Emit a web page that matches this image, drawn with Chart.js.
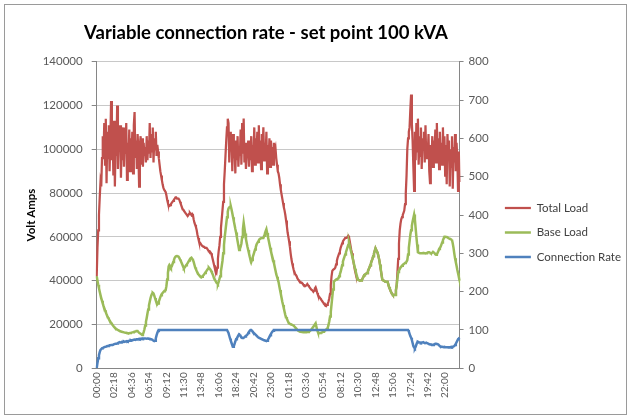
<!DOCTYPE html>
<html>
<head>
<meta charset="utf-8">
<script src="https://cdn.jsdelivr.net/npm/chart.js@4.4.1/dist/chart.umd.min.js"></script>
<style>
html,body{margin:0;padding:0;background:#fff;}
#wrap{position:relative;width:631px;height:417px;overflow:hidden;}
#c{position:absolute;left:0;top:0;}
#frame{position:absolute;left:4px;top:4px;width:623px;height:411px;box-sizing:border-box;border:1px solid #9a9a9a;pointer-events:none;}
</style>
</head>
<body>
<div id="wrap"><canvas id="c" width="631" height="417"></canvas><div id="frame"></div></div>
<script>
// X-axis labels shown every 23 samples (6-minute samples, labels every 2h18m)
const tickLabels = ['00:00','02:18','04:36','06:54','09:12','11:30','13:48','16:06','18:24','20:42','23:00',
                    '01:18','03:36','05:54','08:12','10:30','12:48','15:06','17:24','19:42','22:00'];
const pointsPerTick = 23;

// Total Load (VA)
const totalLoad = [
42000,55000,63000,70000,78000,85000,83000,96000,106000,97000,
112000,93000,114000,84500,108000,96000,111000,90000,104000,122000,
95000,109000,88000,113000,83000,105000,97000,120000,91000,107000,
99000,111000,87000,104000,95000,110000,92000,106000,98000,112000,
86000,103000,94000,109000,90000,105000,97000,108000,89000,111000,
117000,96000,104000,91000,107000,99000,83000,102000,106000,93000,
105000,92000,103000,97000,101000,94000,106000,95000,104000,98000,
112000,96000,107000,99000,110000,94000,105000,100000,108000,97000,
102000,99000,96000,93000,90000,88000,86000,84000,82500,81500,
81000,80500,79000,77000,75500,74000,74000,74500,75000,75500,
76000,76500,77000,77500,78000,78000,77500,77500,77500,77000,
76000,75000,74000,73000,72500,72000,71500,71000,70500,70000,
69500,70000,70500,71000,70500,70000,70500,70000,68000,66500,
65500,64500,63000,61000,59500,58000,57500,57000,56500,56000,
56000,55500,55500,55000,55000,55000,54500,54000,53500,53500,
53000,52500,51500,50000,48500,47000,45500,44000,43500,46000,
50000,53500,56000,60000,64000,68000,72000,76000,84000,90000,
97000,104000,110000,114000,112000,94000,108000,99000,105000,90000,
107000,96000,101000,89000,104000,95000,106000,92000,100000,97000,
109000,93000,112000,98000,114000,94000,103000,91000,99000,96000,
104000,92000,101000,95000,106000,90000,102000,97000,110000,93000,
105000,98000,108000,94000,111000,96000,104000,91000,107000,99000,
110000,95000,103000,97000,108000,89000,102000,96000,105000,92000,
104000,98000,101000,93000,103000,99000,100500,96000,93000,90000,
89000,87000,84000,81500,79500,77500,75500,73500,72000,70000,
67500,65000,62000,60000,58000,55500,52500,50000,48000,46500,
45000,44000,43000,42500,42000,41000,40500,40000,39500,39500,
39000,39000,38500,38000,38000,37500,37500,38000,38500,38000,
37500,37000,36500,36000,36000,35500,35000,35500,36500,37000,
36000,34500,33500,33000,32500,32000,31500,31000,30500,30000,
29500,29500,29000,28500,29000,29500,30500,32000,34000,38000,
42000,44500,45000,45000,45500,46000,47500,49000,50500,51500,
52500,53500,55000,56000,57000,58000,58500,59000,59500,59500,
59500,60000,60500,60000,58000,56000,54000,52500,50500,48500,
46500,44500,43000,41500,41000,40500,40300,40100,40000,40100,
40300,41000,41700,42500,42800,43000,43300,43500,44300,45200,
46000,47000,48000,49000,50000,51200,52400,53600,54800,54000,
53200,52500,51000,49500,47300,45000,42700,40500,40200,40000,
39800,39500,39500,39500,39500,38200,37000,36200,35300,34500,
34000,33500,33500,33500,33500,35700,38000,44000,50000,57000,
63000,66000,68000,69000,70000,71000,72000,75000,80000,88000,
100000,105000,108000,110000,118000,125000,112000,104000,92000,81000,
108000,95000,112000,99000,114000,93000,106000,97000,110000,91000,
105000,100000,108000,94000,111000,96000,103000,98000,107000,90000,
84500,102000,95000,106000,92000,104000,98000,109000,94000,112000,
96000,105000,91000,108000,99000,103000,93000,110000,95000,106000,
88000,102000,84000,107000,97000,104000,83000,100000,92000,106000,
82000,101000,94000,107000,90000,103000,96000,81000,99000,85000
];

// Base Load (VA)
const baseLoad = [
42000,40000,38200,36600,35000,33500,32100,30800,29600,28500,
27500,26500,25600,24700,23900,23200,22500,21900,21300,20800,
20300,19800,19300,18900,18500,18200,17900,17700,17500,17300,
17100,16900,16800,16700,16600,16500,16400,16300,16200,16200,
16100,16000,16000,16000,16100,16200,16300,16400,16500,16600,
16700,16800,16900,17000,17000,16600,16200,16000,15800,15500,
15200,15500,16500,17800,19500,21200,23000,25000,26900,28700,
30400,32000,33200,34000,34500,34200,33200,32100,31000,30000,
29200,29600,30500,31500,32500,33300,34000,34400,34800,35200,
35500,35700,37500,40500,43500,46500,47200,46700,46000,46500,
47500,48500,49500,50500,51000,51200,51300,51200,51000,50400,
49700,49000,48200,47400,46500,45700,46000,46500,47000,47500,
48000,48600,49200,49800,50300,50500,50000,49500,48600,47300,
46000,45200,44400,43700,43000,42600,42200,41800,41500,41800,
42200,42500,43000,43500,44000,44500,45000,45500,46000,45600,
45100,44500,43800,43000,42100,41000,40400,39800,39300,38900,
38500,39500,40800,42000,44300,46600,49000,52500,56200,60000,
63000,66000,69000,71500,73000,73500,73800,74000,72500,70800,
69000,67200,65400,63600,62000,60000,58000,56000,54000,54500,
55500,57000,60000,63500,66500,64000,61500,59000,57200,55500,
54000,52500,51000,49700,48500,49500,50700,51900,53000,54200,
55300,56500,57200,57800,58400,59000,59200,59400,59400,59500,
59500,60500,61600,62600,63500,61800,60100,58500,56800,55100,
53500,52000,50700,49300,48000,46300,44700,43000,41800,40600,
39500,37600,35800,34000,32200,30400,28900,27400,25800,24300,
23400,22600,21800,21100,20500,20300,20100,20000,19800,19700,
19500,19100,18700,18300,17900,17500,17200,17000,16900,16800,
16700,16600,16600,16500,16500,16500,16500,16500,16600,16600,
16700,16900,17200,17600,18000,18500,19000,19500,20000,20500,
19000,17500,16500,16000,16000,16100,16200,16300,16500,16700,
16900,17100,17400,17700,18100,18500,19800,21500,23600,25800,
29200,32600,36000,39500,39900,40200,40500,40700,40900,41000,
42000,43000,44000,45500,47100,48700,49800,50900,52000,53000,
54100,55200,56300,57500,56000,54500,53000,51500,50000,48500,
47000,45500,44000,42800,41600,40500,40300,40100,40000,40100,
40300,41000,41700,42500,42800,43000,43300,43500,44300,45200,
46000,47000,48000,49000,50000,51200,52400,53600,54800,54000,
53200,52500,51000,49500,47300,45000,42700,40500,40200,40000,
39800,39500,39500,39500,39500,38200,37000,36200,35300,34500,
34000,33500,33500,33500,33500,35700,38000,41000,44000,44700,
45300,46000,46400,46800,47200,47500,47800,48100,48400,48700,
49400,52000,55000,58000,61000,63000,65000,67000,68600,70200,
68000,64000,60000,56500,53000,52800,52600,52500,52500,52500,
52500,52500,52600,52500,52400,52500,52700,52900,53000,53000,
52800,52500,52500,52800,53200,53000,52600,52000,51800,52000,
52800,53600,54500,55000,55500,56500,57500,58500,59300,60100,
60100,60000,60000,59800,59500,59300,59200,59000,58800,58600,
57000,55000,52500,50200,48500,46800,45000,43400,41800,40000
];

// Connection Rate (kVA, right axis)
const connectionRate = [
0,14,26,34,42,48,50,52,53,54,
55,56,56,57,58,58,59,60,60,61,
61,61,62,63,63,64,64,65,66,67,
68,67,68,69,68,69,70,69,70,70,
71,70,71,72,72,73,72,73,74,74,
75,74,75,76,76,76,77,76,77,77,
78,77,78,78,78,78,77,78,78,77,
77,76,76,75,74,72,71,72,78,86,
92,97,100,100,100,100,100,100,100,100,
100,100,100,100,100,100,100,100,100,100,
100,100,100,100,100,100,100,100,100,100,
100,100,100,100,100,100,100,100,100,100,
100,100,100,100,100,100,100,100,100,100,
100,100,100,100,100,100,100,100,100,100,
100,100,100,100,100,100,100,100,100,100,
100,100,100,100,100,100,100,100,100,100,
100,100,100,100,100,100,100,100,100,100,
100,100,100,100,92,85,78,72,66,60,
56,58,64,70,76,78,82,86,89,88,
84,80,79,80,80,81,83,85,86,88,
92,95,98,100,100,98,95,93,91,89,
87,85,83,81,80,79,78,77,76,75,
74,73,73,72,71,72,75,78,82,86,
90,93,96,98,100,100,100,100,100,100,
100,100,100,100,100,100,100,100,100,100,
100,100,100,100,100,100,100,100,100,100,
100,100,100,100,100,100,100,100,100,100,
100,100,100,100,100,100,100,100,100,100,
100,100,100,100,100,100,100,100,100,100,
100,100,100,100,100,100,100,100,100,100,
100,100,100,100,100,100,100,100,100,100,
100,100,100,100,100,100,100,100,100,100,
100,100,100,100,100,100,100,100,100,100,
100,100,100,100,100,100,100,100,100,100,
100,100,100,100,100,100,100,100,100,100,
100,100,100,100,100,100,100,100,100,100,
100,100,100,100,100,100,100,100,100,100,
100,100,100,100,100,100,100,100,100,100,
100,100,100,100,100,100,100,100,100,100,
100,100,100,100,100,100,100,100,100,100,
100,100,100,100,100,100,100,100,100,100,
100,100,96,90,84,80,74,66,58,54,
52,56,62,67,69,68,67,67,66,67,
67,68,67,66,66,67,66,65,64,63,
63,62,62,61,61,62,63,64,64,64,
63,62,60,58,57,56,56,56,55,56,
55,55,55,55,54,55,55,55,56,55,
56,57,58,61,64,68,72,76,78,80
];

Chart.defaults.font.family = 'Lato, "Open Sans", sans-serif';
Chart.defaults.color = '#595959';

const layoutTweak = {
  id: 'layoutTweak',
  afterLayout(chart) {
    const t = chart.titleBlock;
    if (t) { t.left = 0; t.right = 532; }
    const lg = chart.legend;
    if (lg) { lg.top += 24; lg.bottom += 24; }
  }
};

new Chart(document.getElementById('c'), {
  type: 'line',
  data: {
    labels: totalLoad.map((_, i) => i),
    datasets: [
      { label: 'Total Load', data: totalLoad, yAxisID: 'y', borderColor: '#C0504D', backgroundColor: '#C0504D', borderWidth: 2.25, pointRadius: 0, tension: 0, order: 3 },
      { label: 'Base Load', data: baseLoad, yAxisID: 'y', borderColor: '#9BBB59', backgroundColor: '#9BBB59', borderWidth: 2.5, pointRadius: 0, tension: 0, order: 2 },
      { label: 'Connection Rate', data: connectionRate, yAxisID: 'y1', borderColor: '#4F81BD', backgroundColor: '#4F81BD', borderWidth: 2.5, pointRadius: 0, tension: 0, order: 1 }
    ]
  },
  options: {
    responsive: false,
    animation: false,
    devicePixelRatio: 1,
    layout: { padding: { left: 0, right: 0, top: 0, bottom: 0 } },
    plugins: {
      title: {
        display: true,
        text: 'Variable connection rate - set point 100 kVA',
        color: '#000',
        font: { size: 18.5, weight: 'bold' },
        padding: { top: 22, bottom: 17.5 }
      },
      legend: {
        position: 'right',
        maxWidth: 142,
        labels: {
          usePointStyle: true,
          pointStyle: 'line',
          pointStyleWidth: 26,
          padding: 13,
          color: '#404040',
          font: { size: 11.5 },
          sort: (a, b) => a.datasetIndex - b.datasetIndex
        }
      },
      tooltip: { enabled: false }
    },
    scales: {
      x: {
        type: 'category',
        offset: false,
        grid: { display: false, drawTicks: false },
        border: { display: true, color: '#868686', width: 1 },
        ticks: {
          autoSkip: false,
          maxRotation: 90,
          minRotation: 90,
          padding: 4,
          font: { size: 10 },
          color: '#595959',
          callback: (v, i) => (i % pointsPerTick === 0 ? tickLabels[i / pointsPerTick] : null)
        },
        afterFit: s => { s.height = 48.7; }
      },
      y: {
        position: 'left',
        min: 0, max: 140000,
        ticks: { stepSize: 20000, padding: 9, font: { size: 11.5 }, color: '#595959', callback: v => String(v) },
        grid: { color: '#c8c8c8', tickColor: '#868686', tickLength: 5, drawTicks: true },
        border: { display: true, color: '#868686' },
        title: { display: true, text: 'Volt Amps', color: '#000', font: { size: 11.5, weight: 'bold' }, padding: { top: 24, bottom: 0 } },
        afterFit: s => { s.width = 96.7; }
      },
      y1: {
        position: 'right',
        min: 0, max: 800,
        ticks: { stepSize: 100, padding: 5, font: { size: 11.5 }, color: '#595959', callback: v => String(v) },
        grid: { drawOnChartArea: false, tickColor: '#868686', tickLength: 4, drawTicks: true },
        border: { display: true, color: '#868686' },
        afterFit: s => { s.width = 32.3; }
      }
    }
  },
  plugins: [layoutTweak]
});
</script>
</body>
</html>
